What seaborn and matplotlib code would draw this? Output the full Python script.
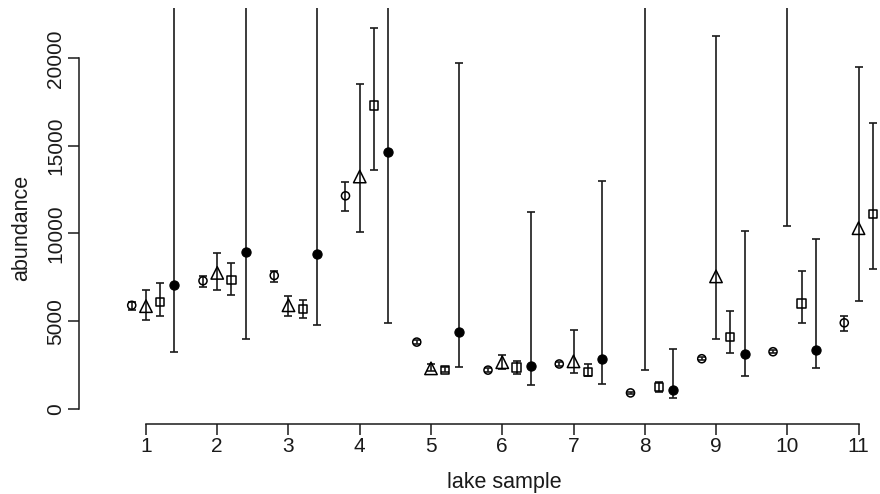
import numpy as np
import pandas as pd
import matplotlib
matplotlib.use("Agg")
import matplotlib.pyplot as plt
import seaborn as sns

# Lake samples on the x axis
lakes = [1, 2, 3, 4, 5, 6, 7, 8, 9, 10, 11]

# Four estimates per lake: mean with lower / upper interval bounds
open_circle_mean = [5900, 7300, 7600, 12150, 3800, 2200, 2550, 900, 2850, 3250, 4900]
open_circle_lo   = [5650, 6950, 7250, 11300, 3700, 2100, 2450, 850, 2750, 3150, 4450]
open_circle_hi   = [6100, 7600, 7850, 12950, 3900, 2300, 2650, 950, 2950, 3350, 5300]

triangle_mean = [5850, 7750, 5900, 13250, 2300, 2650, 2700, 26000, 7550, 25000, 10300]
triangle_lo   = [5050, 6750, 5300, 10100, 2150, 2250, 2050, 2200, 3950, 10450, 6150]
triangle_hi   = [6800, 8900, 6450, 18550, 2550, 3050, 4500, 50000, 21250, 40000, 19500]

square_mean = [6100, 7350, 5700, 17300, 2200, 2350, 2100, 1250, 4100, 6000, 11100]
square_lo   = [5300, 6500, 5200, 13600, 2100, 2000, 1850, 950, 3200, 4900, 8000]
square_hi   = [7200, 8300, 6200, 21700, 2350, 2700, 2550, 1550, 5600, 7850, 16300]

filled_mean = [7050, 8950, 8800, 14650, 4350, 2450, 2850, 1050, 3100, 3350, 3700]
filled_lo   = [3250, 4000, 4750, 4900, 2400, 1350, 1400, 600, 1850, 2300, 2200]
filled_hi   = [30000, 30000, 30000, 30000, 19750, 11200, 13000, 3400, 10150, 9700, 5450]

y_ticks = [0, 5000, 10000, 15000, 20000]

series = {
    "circle":   (open_circle_mean, open_circle_lo, open_circle_hi),
    "triangle": (triangle_mean, triangle_lo, triangle_hi),
    "square":   (square_mean, square_lo, square_hi),
    "filled":   (filled_mean, filled_lo, filled_hi),
}
offsets = {"circle": -0.2, "triangle": 0.0, "square": 0.2, "filled": 0.4}
marker_style = {
    "circle":   dict(marker="o", s=34, facecolor="none", edgecolor="black", linewidth=1.1),
    "triangle": dict(marker="^", s=80, facecolor="none", edgecolor="black", linewidth=1.1),
    "square":   dict(marker="s", s=36, facecolor="none", edgecolor="black", linewidth=1.1),
    "filled":   dict(marker="o", s=44, facecolor="black", edgecolor="black", linewidth=0.8),
}

rows = []
for name, (m, lo, hi) in series.items():
    for lake, mv, lv, hv in zip(lakes, m, lo, hi):
        rows.append(dict(series=name, lake=lake, pos=lake + offsets[name],
                         abundance=mv, lo=lv, hi=hv))
df = pd.DataFrame(rows)

sns.set_theme(style="ticks")
plt.rcParams["font.family"] = ["Liberation Sans", "DejaVu Sans"]

W, H = 880, 494
fig = plt.figure(figsize=(W / 100, H / 100), dpi=100)
left_px, right_px, bottom_px, top_px = 79, 925.5, 424, 8
ax = fig.add_axes([left_px / W, 1 - bottom_px / H,
                   (right_px - left_px) / W, (bottom_px - top_px) / H])

ink = "#1a1a1a"
for name in series:
    sub = df[df["series"] == name]
    ax.errorbar(sub["pos"], sub["abundance"],
                yerr=[sub["abundance"] - sub["lo"], sub["hi"] - sub["abundance"]],
                fmt="none", ecolor=ink, elinewidth=1.2, capsize=3.0, capthick=1.2,
                zorder=2)
    sns.scatterplot(data=sub, x="pos", y="abundance", ax=ax, legend=False,
                    zorder=3, **marker_style[name])

ax.set_xlim(0.06, 11.94)
ax.set_ylim(-875, 22870)

ax.set_xticks(lakes)
ax.set_xticklabels([str(v) for v in lakes])
ax.set_yticks(y_ticks)
ax.set_yticklabels([str(v) for v in y_ticks], rotation=90, va="center")

for side in ("top", "right"):
    ax.spines[side].set_visible(False)
ax.spines["left"].set_bounds(0, 20000)
ax.spines["bottom"].set_bounds(1, 11)
for side in ("left", "bottom"):
    ax.spines[side].set_linewidth(1.1)
    ax.spines[side].set_color(ink)

ax.tick_params(axis="both", length=8, width=1.1, color=ink,
               labelsize=15, labelcolor=ink)
ax.tick_params(axis="x", pad=1)
ax.tick_params(axis="y", pad=2)

ax.set_xlabel("")
ax.set_ylabel("")
fig.text(504 / W, 1 - 482 / H, "lake sample", ha="center", va="center",
         fontsize=15.5, color=ink)
fig.text(22 / W, 1 - 228 / H, "abundance", ha="center", va="center",
         rotation=90, fontsize=15.5, color=ink)

fig.savefig("out.png", dpi=100)
